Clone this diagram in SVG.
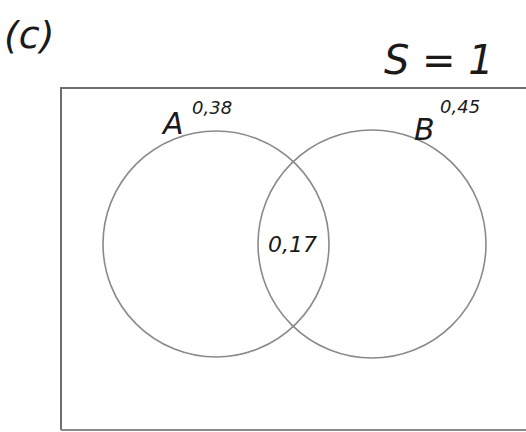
<svg xmlns="http://www.w3.org/2000/svg" width="526" height="432" viewBox="0 0 526 432">
<style>
.t{font-family:"DejaVu Sans","Liberation Sans",sans-serif;font-style:italic;fill:#1a1a1a}
.c{fill:none;stroke:#8a8a8a;stroke-width:1.6}
</style>
<rect width="526" height="432" fill="#ffffff"/>
<g id="title"><text class="t" x="4" y="48" font-size="38">(c)</text></g>
<g id="sample"><text class="t" x="384" y="74" font-size="40">S = 1</text></g>
<g id="frame"><path d="M61,430 V88 H526" fill="none" stroke="#6e6e6e" stroke-width="2"/><path d="M61,430 H526" fill="none" stroke="#8a8a8a" stroke-width="2"/></g>
<g id="A"><circle class="c" cx="216" cy="244" r="113"/><text class="t" x="163" y="134" font-size="30">A</text><text class="t" x="192" y="114" font-size="18">0,38</text></g>
<g id="B"><circle class="c" cx="372" cy="244" r="114"/><text class="t" x="414" y="140" font-size="30">B</text><text class="t" x="440" y="113" font-size="18">0,45</text></g>
<g id="AB"><text class="t" x="268" y="252" font-size="22">0,17</text></g>
<g id="connectors"/>
</svg>
